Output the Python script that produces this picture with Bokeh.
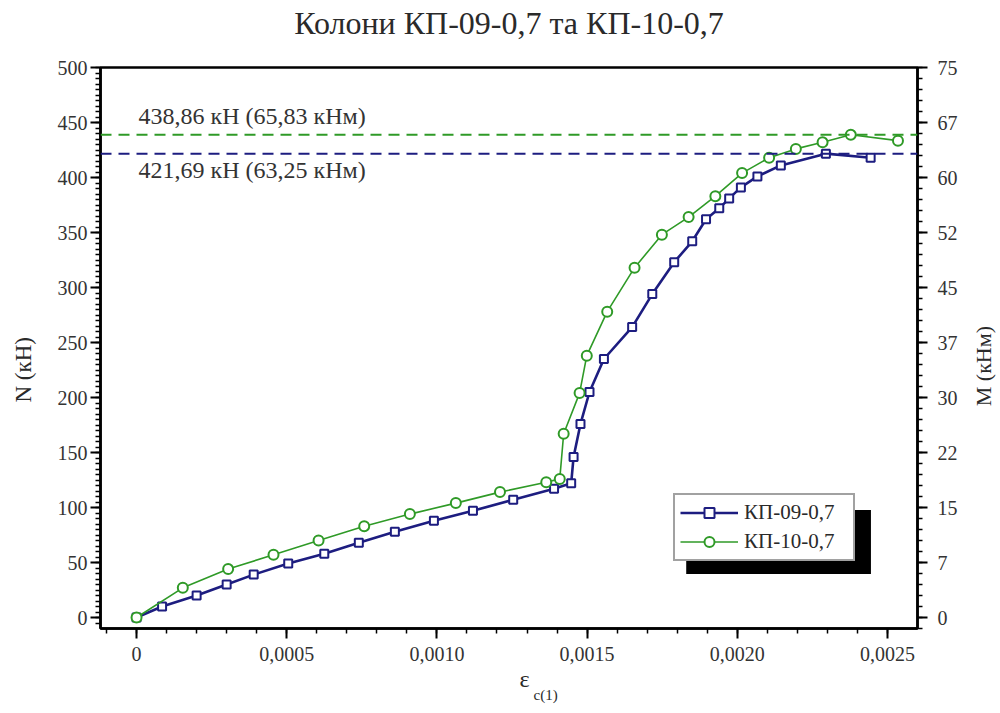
import math
from bokeh.plotting import figure
from bokeh.layouts import row
from bokeh.models import (Range1d, LinearAxis, FixedTicker, CustomJSTickFormatter,
                          Span, Label, Legend, LegendItem, BoxAnnotation, Title, Div)
from bokeh.embed import file_html
from bokeh.resources import INLINE

# ---------------- data ----------------
eps_kp09 = [0, 0.000085, 0.0002, 0.0003, 0.00039, 0.000505, 0.000625, 0.00074, 0.00086,
            0.00099, 0.00112, 0.001254, 0.00139, 0.001447, 0.001455, 0.001478, 0.001508,
            0.001556, 0.00165, 0.001717, 0.00179, 0.00185, 0.001896, 0.00194, 0.001973,
            0.002012, 0.002067, 0.002145, 0.002295, 0.002444]
n_kp09 = [0, 10, 20, 30, 39, 49, 58, 68, 78, 88, 97, 107, 117, 122, 146, 176, 205, 235,
          264, 294, 323, 342, 362, 372, 381, 391, 401, 411, 421.69, 418]

eps_kp10 = [0, 0.000154, 0.000305, 0.000456, 0.000606, 0.000758, 0.00091, 0.001063,
            0.00121, 0.001364, 0.001409, 0.001422, 0.001475, 0.001499, 0.001567, 0.001658,
            0.001749, 0.001838, 0.001927, 0.002016, 0.002106, 0.002195, 0.002284, 0.002378,
            0.002535]
n_kp10 = [0, 27, 44, 57, 70, 83, 94, 104, 114, 123, 126, 167, 204, 238, 278, 318, 348,
          364, 383, 404, 418, 426, 432, 438.86, 433.5]

series_names = ["КП-09-0,7", "КП-10-0,7"]
n_limits = [421.69, 438.86]
limit_labels = ["421,69 кН (63,25 кНм)", "438,86 кН (65,83 кНм)"]

x_ticks = [0, 0.0005, 0.0010, 0.0015, 0.0020, 0.0025]
y_ticks = [0, 50, 100, 150, 200, 250, 300, 350, 400, 450, 500]
m_ticks = [0, 7.5, 15, 22.5, 30, 37.5, 45, 52.5, 60, 67.5, 75]
m_factor = 0.15  # M (кНм) = 0.15 * N (кН)

title_text = "Колони КП-09-0,7 та КП-10-0,7"
y_title = "N (кН)"
m_title = "M (кНм)"
x_title = "ε"
x_title_sub = "c(1)"

# ---------------- styling ----------------
FONT = "Liberation Serif"
BLUE = "#1d1d80"
GREEN = "#2f9a27"
GRID = "#929292"
TXT = "#2a2a2a"

x0, x1 = -0.00012, 0.0026
y0, y1 = -10, 500

p = figure(width=962, height=710, output_backend="svg", toolbar_location=None,
           x_range=Range1d(x0, x1), y_range=Range1d(y0, y1),
           min_border_left=100, min_border_right=45, min_border_top=67, min_border_bottom=82,
           x_axis_type=None, y_axis_type=None)
p.extra_y_ranges = {"m": Range1d(y0 * m_factor, y1 * m_factor)}

# spacer pushes the main title up, away from the frame
p.add_layout(Title(text=" ", text_font_size="22px", standoff=0, text_font=FONT), "above")
p.title.text = title_text
p.title.text_font = FONT
p.title.text_font_size = "32px"
p.title.text_font_style = "normal"
p.title.text_color = TXT
p.title.align = "center"
p.title.standoff = 0

p.outline_line_color = "black"
p.outline_line_width = 2.5
p.background_fill_color = "white"
p.border_fill_color = "white"

def style_axis(ax):
    ax.axis_line_width = 2.5
    ax.axis_line_color = "black"
    ax.major_tick_line_width = 2
    ax.minor_tick_line_width = 1.5
    ax.major_tick_out = 10
    ax.major_tick_in = 0
    ax.minor_tick_out = 5
    ax.minor_tick_in = 0
    ax.major_label_text_font = FONT
    ax.major_label_text_font_size = "20px"
    ax.major_label_text_color = "#333333"

xminor = [i * 0.0001 for i in range(-1, 27)]
xaxis = LinearAxis(ticker=FixedTicker(ticks=x_ticks, minor_ticks=xminor),
                   formatter=CustomJSTickFormatter(code="return tick === 0 ? '0' : tick.toFixed(4).replace('.', ',');"))
style_axis(xaxis)
xaxis.major_label_standoff = 8
p.add_layout(xaxis, "below")

yminor = list(range(-5, 505, 5))
yaxis = LinearAxis(ticker=FixedTicker(ticks=y_ticks, minor_ticks=yminor))
style_axis(yaxis)
yaxis.major_label_standoff = 3
p.add_layout(yaxis, "left")

mminor = [i * 1.5 for i in range(-1, 51)]
maxis = LinearAxis(y_range_name="m", ticker=FixedTicker(ticks=m_ticks, minor_ticks=mminor),
                   formatter=CustomJSTickFormatter(code="return Math.floor(tick + 1e-9).toString();"))
style_axis(maxis)
maxis.major_label_standoff = 10
p.add_layout(maxis, "right")

# left axis title: spacer + title aligned from the bottom of the frame
p.add_layout(Title(text=" ", text_font_size="16px", standoff=0, text_font=FONT), "left")
p.add_layout(Title(text=y_title, align="left", offset=226, standoff=0,
                   text_font=FONT, text_font_size="23px", text_font_style="normal",
                   text_color=TXT), "left")
# bottom axis title: epsilon with subscript
p.add_layout(Title(text=x_title, align="left", offset=419, standoff=0,
                   text_font=FONT, text_font_size="24px", text_font_style="normal",
                   text_color=TXT), "below")
p.add_layout(Title(text=x_title_sub, align="left", offset=433, standoff=-14,
                   text_font=FONT, text_font_size="15px", text_font_style="normal",
                   text_color=TXT), "below")

p.xgrid.ticker = FixedTicker(ticks=x_ticks)
p.ygrid.ticker = FixedTicker(ticks=y_ticks)
for g in (p.xgrid, p.ygrid):
    g.grid_line_color = GRID
    g.grid_line_width = 1.5

# limit lines
colors = [BLUE, GREEN]
for lim, col in zip(n_limits, colors):
    p.add_layout(Span(location=lim, dimension="width", line_color=col,
                      line_dash="11 7", line_width=2))

p.add_layout(Label(x=0.0, y=n_limits[1], text=limit_labels[1], text_font=FONT,
                   text_font_size="24px", text_color="#333333", text_baseline="alphabetic",
                   y_offset=19, x_offset=2))
p.add_layout(Label(x=0.0, y=n_limits[0], text=limit_labels[0], text_font=FONT,
                   text_font_size="24px", text_color="#333333", text_baseline="alphabetic",
                   y_offset=-16, x_offset=2))

# legend shadow
p.add_layout(BoxAnnotation(left=0.00183, right=0.002445, bottom=39.6, top=97.7,
                           fill_color="black", fill_alpha=1.0, line_color=None,
                           level="underlay"))

# series
l1 = p.line(eps_kp09, n_kp09, line_color=BLUE, line_width=2.6)
s1 = p.scatter(eps_kp09, n_kp09, marker="square", size=8, line_color=BLUE,
               line_width=2, fill_color="white")
l2 = p.line(eps_kp10, n_kp10, line_color=GREEN, line_width=1.6)
s2 = p.scatter(eps_kp10, n_kp10, marker="circle", size=10, line_color=GREEN,
               line_width=2, fill_color="white")

legend = Legend(items=[LegendItem(label=series_names[0], renderers=[l1, s1]),
                       LegendItem(label=series_names[1], renderers=[l2, s2])],
                location=(573, 67))
legend.label_text_font = FONT
legend.label_text_font_size = "21px"
legend.label_text_color = TXT
legend.glyph_width = 58
legend.glyph_height = 25
legend.label_height = 25
legend.label_width = 104
legend.label_standoff = 6
legend.padding = 5
legend.spacing = 4
legend.margin = 0
legend.border_line_color = "#444444"
legend.border_line_width = 2
legend.background_fill_color = "white"
legend.background_fill_alpha = 1.0
p.add_layout(legend, "center")

# right-hand title (reads bottom-to-top, shifted below the frame centre like the reference)
m_div = Div(text=("<div style=\"writing-mode: vertical-rl; transform: rotate(180deg); "
                  "margin-top: 326px; margin-left: 9px; white-space: nowrap; "
                  "font-family: 'Liberation Serif'; font-size: 22px; line-height: 26px; "
                  "color: #2a2a2a;\">" + m_title + "</div>"),
            width=38, height=710, margin=0)

layout = row(p, m_div, spacing=0)
open("out.html", "w").write(file_html(layout, INLINE))
